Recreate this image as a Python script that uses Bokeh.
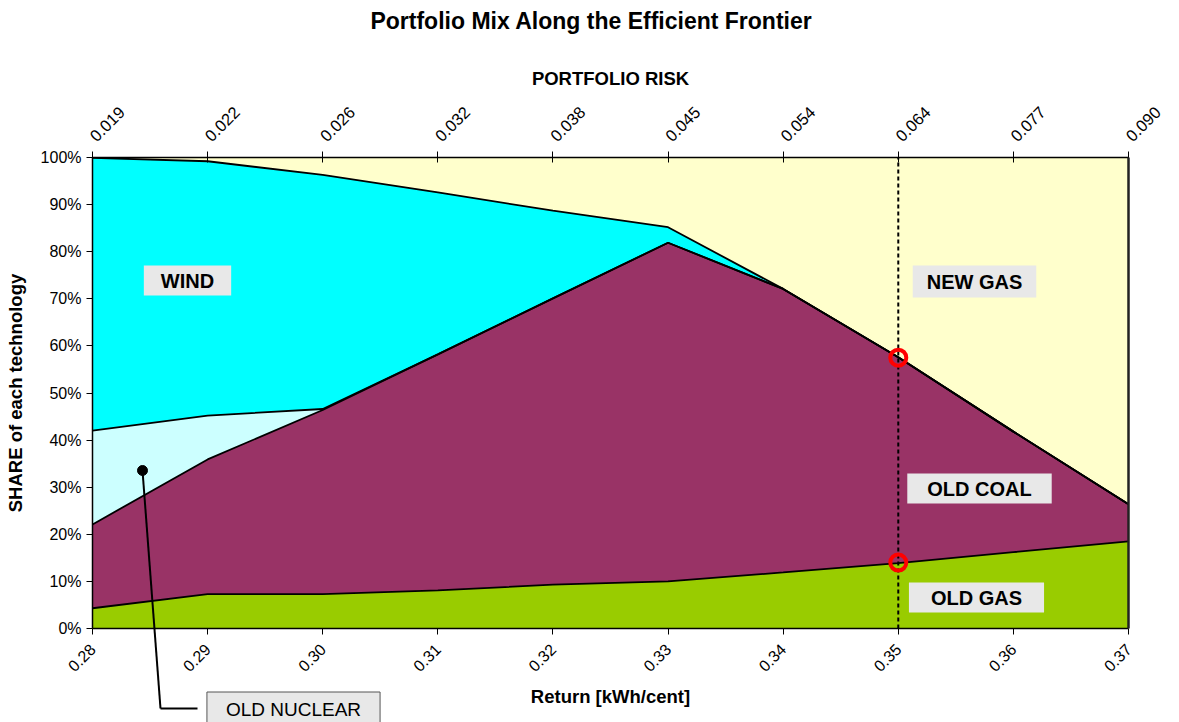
import math
from bokeh.plotting import figure
from bokeh.models import (LinearAxis, FixedTicker, CustomJSTickFormatter, PrintfTickFormatter,
                          Label, Arrow, Range1d)
from bokeh.embed import file_html
from bokeh.resources import INLINE

# ---- data ----
returns = [0.28, 0.29, 0.30, 0.31, 0.32, 0.33, 0.34, 0.35, 0.36, 0.37]
return_labels = ["0.28", "0.29", "0.30", "0.31", "0.32", "0.33", "0.34", "0.35", "0.36", "0.37"]
risk_labels = ["0.019", "0.022", "0.026", "0.032", "0.038", "0.045", "0.054", "0.064", "0.077", "0.090"]
y_ticks = [0, 10, 20, 30, 40, 50, 60, 70, 80, 90, 100]

old_gas = [4.3, 7.3, 7.3, 8.1, 9.3, 10.0, 11.9, 13.9, 16.2, 18.5]
old_coal = [17.8, 28.6, 39.1, 50.1, 60.8, 71.9, 60.2, 43.7, 25.6, 7.9]
old_nuclear = [19.9, 9.3, 0.2, 0.0, 0.0, 0.0, 0.0, 0.0, 0.0, 0.0]
wind = [57.9, 54.0, 49.7, 34.4, 18.6, 3.3, 0.0, 0.0, 0.0, 0.0]
new_gas = [0.1, 0.8, 3.7, 7.4, 11.3, 14.8, 27.9, 42.4, 58.2, 73.6]

highlight_x = 0.35
highlight_y = [57.5, 14.0]

series = [("OLD GAS", old_gas, "#99CC00"),
          ("OLD COAL", old_coal, "#993366"),
          ("OLD NUCLEAR", old_nuclear, "#CCFFFF"),
          ("WIND", wind, "#00FFFF"),
          ("NEW GAS", new_gas, "#FFFFCC")]

FONT = "Liberation Sans"

# ---- layout geometry (canvas pixels) ----
W, H = 1179, 722
PX_LEFT, PX_RIGHT = 92, 1128      # plot box left/right
PY_BOTTOM, PY_TOP = 628, 157      # plot box bottom/top


def px_x(px):
    return returns[0] + (px - PX_LEFT) / (PX_RIGHT - PX_LEFT) * (returns[-1] - returns[0])


def px_y(py):
    return (PY_BOTTOM - py) / (PY_BOTTOM - PY_TOP) * (y_ticks[-1] - y_ticks[0])


p = figure(width=W, height=H, output_backend="svg", toolbar_location=None,
           x_range=Range1d(px_x(0), px_x(W)), y_range=Range1d(px_y(H), px_y(0)),
           min_border=0, min_border_left=0, min_border_right=0, min_border_top=0, min_border_bottom=0,
           x_axis_location=None, y_axis_location=None)
p.xgrid.visible = False
p.ygrid.visible = False
p.outline_line_color = None
p.background_fill_color = "white"
p.border_fill_color = "white"

# stacked areas
base = [0.0] * len(returns)
for name, vals, col in series:
    top = [b + v for b, v in zip(base, vals)]
    p.varea(x=returns, y1=base, y2=top, fill_color=col)
    base = top

# boundary lines
base = [0.0] * len(returns)
for name, vals, col in series[:-1]:
    top = [b + v for b, v in zip(base, vals)]
    p.line(returns, top, line_color="black", line_width=1.8)
    base = top

# dashed vertical marker and circles
p.segment(x0=[highlight_x], y0=[y_ticks[0]], x1=[highlight_x], y1=[y_ticks[-1]],
          line_color="black", line_width=2, line_dash="4 3")
p.scatter([highlight_x] * len(highlight_y), highlight_y, size=16, fill_alpha=0,
          line_color="#FF0000", line_width=4)

# axes (fixed at the plot-box edges)
xb = (returns[0], returns[-1])
yb = (y_ticks[0], y_ticks[-1])
bottom = LinearAxis(ticker=FixedTicker(ticks=returns), fixed_location=y_ticks[0], bounds=xb,
                    formatter=CustomJSTickFormatter(args=dict(labels=return_labels), code="return labels[index];"),
                    major_label_orientation=math.pi / 4,
                    axis_label="Return [kWh/cent]")
top_ax = LinearAxis(ticker=FixedTicker(ticks=returns), fixed_location=y_ticks[-1], bounds=xb,
                    formatter=CustomJSTickFormatter(args=dict(labels=risk_labels), code="return labels[index];"),
                    major_label_orientation=math.pi / 4,
                    axis_label="PORTFOLIO RISK")
left = LinearAxis(ticker=FixedTicker(ticks=y_ticks), fixed_location=returns[0], bounds=yb,
                  formatter=PrintfTickFormatter(format="%d%%"),
                  axis_label="SHARE of each technology")
right = LinearAxis(ticker=FixedTicker(ticks=[]), fixed_location=returns[-1], bounds=yb,
                   major_label_text_font_size="0px")
for ax in (bottom, top_ax, left, right):
    ax.major_label_text_font = FONT
    ax.major_label_text_color = "black"
    ax.axis_label_text_font = FONT
    ax.axis_label_text_font_size = "18.5px"
    ax.axis_label_text_font_style = "bold"
    ax.axis_label_text_color = "black"
    ax.axis_line_color = "black"
    ax.axis_line_width = 1.5
    ax.major_tick_line_color = "black"
    ax.minor_tick_line_color = None
    ax.major_tick_out = 6
    ax.major_tick_in = 0
for ax in (bottom, left):
    ax.major_label_text_font_size = "16px"
top_ax.major_label_text_font_size = "16.5px"
right.axis_line_color = "#222222"
right.axis_line_width = 2.5
bottom.major_label_standoff = 12
bottom.axis_label_standoff = 6
top_ax.major_tick_in = 5
top_ax.major_label_standoff = 13
top_ax.axis_label_standoff = 9
left.major_label_standoff = 5
left.axis_label_standoff = 12
p.add_layout(bottom, "below")
p.add_layout(top_ax, "above")
p.add_layout(left, "left")
p.add_layout(right, "right")

# chart title
p.add_layout(Label(x=px_x(591), y=px_y(20), text="Portfolio Mix Along the Efficient Frontier",
                   text_font=FONT, text_font_size="23px", text_font_style="bold", text_color="black",
                   text_align="center", text_baseline="middle"))


# region labels
def box_label(cx, cy, text, pad):
    p.add_layout(Label(x=px_x(cx), y=px_y(cy), text=text, text_font=FONT, text_font_size="20px",
                       text_font_style="bold", text_color="black",
                       text_align="center", text_baseline="middle",
                       background_fill_color="#E8E8E8", padding=pad))


box_label(187, 280, "WIND", (17, 4))
box_label(974, 281, "NEW GAS", (14, 5))
box_label(979, 488, "OLD COAL", (20, 4))
box_label(976, 597, "OLD GAS", (22, 4))

# old nuclear call-out
dot = (142, 470)
corner = (160, 708)
end = (197, 708)
p.scatter([px_x(dot[0])], [px_y(dot[1])], size=10, color="black")
p.add_layout(Arrow(end=None, x_start=px_x(dot[0]), y_start=px_y(dot[1]),
                   x_end=px_x(corner[0]), y_end=px_y(corner[1]),
                   line_color="black", line_width=2))
p.add_layout(Arrow(end=None, x_start=px_x(corner[0]), y_start=px_y(corner[1]),
                   x_end=px_x(end[0]), y_end=px_y(end[1]),
                   line_color="black", line_width=2))
p.add_layout(Label(x=px_x(293), y=px_y(709), text="OLD NUCLEAR", text_font=FONT, text_font_size="19px",
                   text_color="black", text_align="center", text_baseline="middle",
                   background_fill_color="#E8E8E8", border_line_color="#555555",
                   border_line_width=1, padding=(19, 7)))

open("out.html", "w").write(file_html(p, INLINE))
